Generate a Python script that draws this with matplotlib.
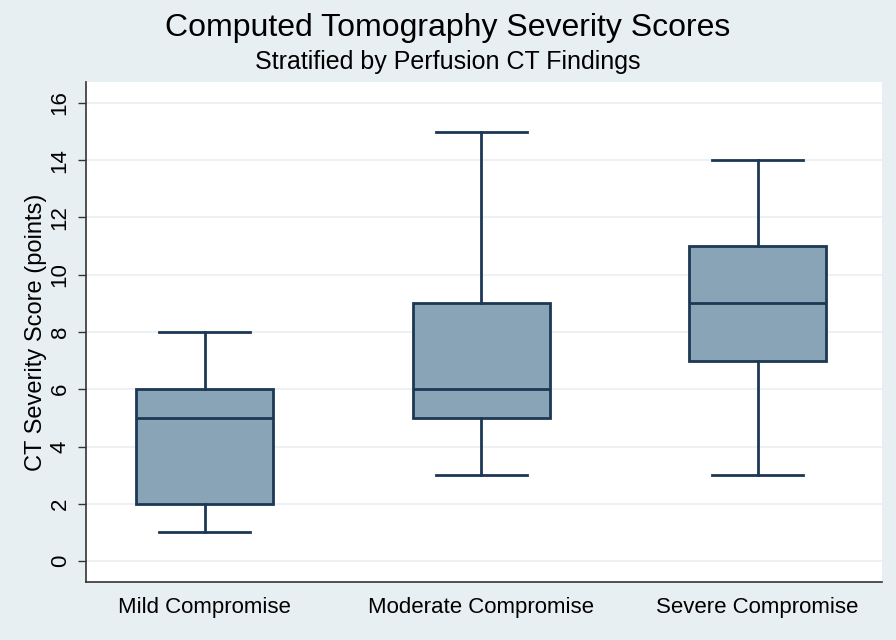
import matplotlib.pyplot as plt

plt.rcParams['font.family'] = ['Liberation Sans', 'DejaVu Sans']

groups = ['Mild Compromise', 'Moderate Compromise', 'Severe Compromise']
whislo = [1, 3, 3]
q1 = [2, 5, 7]
med = [5, 6, 9]
q3 = [6, 9, 11]
whishi = [8, 15, 14]

stats = []
for g, lo, a, m, b, hi in zip(groups, whislo, q1, med, q3, whishi):
    stats.append({'label': g, 'whislo': lo, 'q1': a, 'med': m, 'q3': b, 'whishi': hi, 'fliers': []})

bg = '#e7eff2'
edge = '#1c3854'
fill = '#89a3b7'

fig = plt.figure(figsize=(8.96, 6.4), dpi=100, facecolor=bg)
ax = fig.add_axes([86/896, 1 - 582/640, (882-86)/896, (582-82)/640])
ax.set_facecolor('white')

ax.bxp(stats, positions=[1, 2, 3], widths=0.495, patch_artist=True, showfliers=False,
       boxprops=dict(facecolor=fill, edgecolor=edge, linewidth=2),
       medianprops=dict(color=edge, linewidth=2),
       whiskerprops=dict(color=edge, linewidth=2),
       capprops=dict(color=edge, linewidth=2), capwidths=0.33)

ax.set_xlim(0.57, 3.45)
ax.set_ylim(-0.73, 16.73)
ax.set_yticks(range(0, 17, 2))
ax.set_yticklabels([str(v) for v in range(0, 17, 2)], rotation=90, va='center', fontsize=16)
ax.set_xticks([1, 2, 3])
ax.set_xticklabels(groups, fontsize=16)
ax.tick_params(axis='x', length=0, pad=11)
ax.tick_params(axis='y', length=6, width=1, color='#333333', pad=5)
ax.yaxis.grid(True, color='#eaeff2', linewidth=1.2)
ax.set_axisbelow(True)
for s in ['top', 'right']:
    ax.spines[s].set_visible(False)
for s in ['left', 'bottom']:
    ax.spines[s].set_color('#333333')
    ax.spines[s].set_linewidth(1.2)
ax.set_ylabel('CT Severity Score (points)', fontsize=17, labelpad=2)

fig.text(0.5, 1 - 28/640, 'Computed Tomography Severity Scores', ha='center', va='center', fontsize=23)
fig.text(0.5, 1 - 62/640, 'Stratified by Perfusion CT Findings', ha='center', va='center', fontsize=18)

fig.savefig('out.png', dpi=100, facecolor=bg)
